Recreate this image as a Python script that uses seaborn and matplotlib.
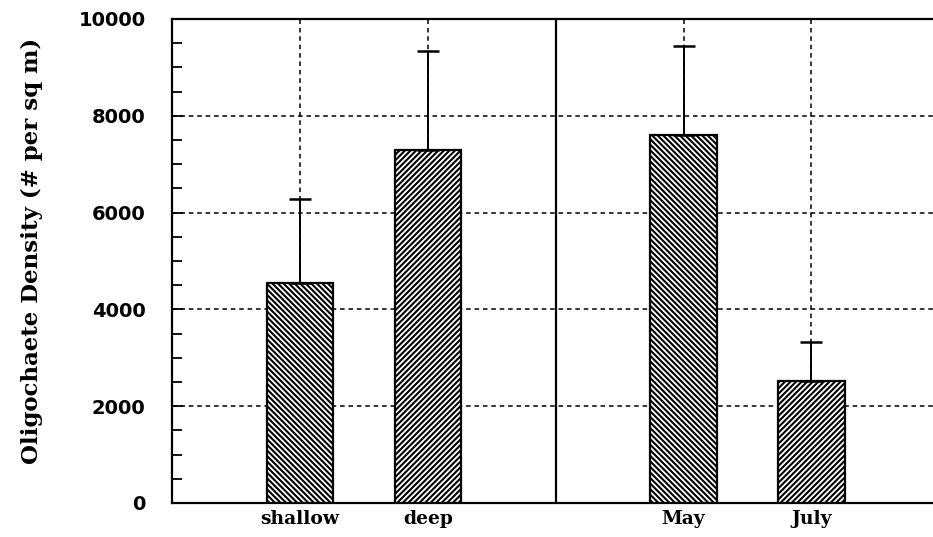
import matplotlib
matplotlib.use("Agg")
import matplotlib.pyplot as plt
import seaborn as sns
import pandas as pd
import numpy as np
from matplotlib.ticker import MultipleLocator

categories = ["shallow", "deep", "May", "July"]
means = [4550, 7300, 7600, 2520]
upper_err = [1730, 2030, 1840, 810]
hatches = ["\\" * 6, "/" * 6, "\\" * 6, "/" * 6]
order = ["shallow", "deep", " ", "May", "July"]

sns.set_theme(style="white")
plt.rcParams["hatch.linewidth"] = 1.5
plt.rcParams["hatch.color"] = "black"

df = pd.DataFrame({"cat": categories, "val": means})

fig = plt.figure(figsize=(9.33, 5.37), dpi=100)
ax = fig.add_axes([172/933, 1-503/537, (933-172)/933, (503-19)/537])

sns.barplot(data=df, x="cat", y="val", order=order, ax=ax, width=0.52,
            color="white", edgecolor="black", linewidth=1.6, errorbar=None, zorder=3)

for patch, h in zip(ax.patches, hatches):
    patch.set_hatch(h)
    patch.set_zorder(3)

xpos = [order.index(c) for c in categories]
ax.errorbar(xpos, means, yerr=[np.zeros(len(means)), upper_err], fmt="none",
            ecolor="black", elinewidth=1.4, capsize=8, capthick=1.8, zorder=4)

ax.set_ylim(0, 10000)
ax.set_xlim(-1, 4.95)
ax.yaxis.set_major_locator(MultipleLocator(2000))
ax.yaxis.set_minor_locator(MultipleLocator(500))
ax.set_xticks(xpos)
ax.set_xticklabels(categories)

# grid lines
for y in [2000, 4000, 6000, 8000]:
    ax.axhline(y, color="black", lw=1.1, ls=(0, (3, 2.5)), zorder=1)
for x in xpos:
    ax.axvline(x, color="black", lw=1.1, ls=(0, (3, 2.5)), zorder=1)
ax.axvline(2, color="black", lw=1.6, zorder=2)

for s in ["left", "bottom", "top"]:
    ax.spines[s].set_color("black")
    ax.spines[s].set_linewidth(1.6)
ax.spines["right"].set_visible(False)

ax.tick_params(axis="y", which="both", direction="in", left=True, color="black",
               width=1.3, pad=19)
ax.tick_params(axis="y", which="major", length=8)
ax.tick_params(axis="y", which="minor", length=7)
ax.tick_params(axis="x", length=0, pad=5)

for lab in ax.get_yticklabels():
    lab.set_fontfamily("DejaVu Sans")
    lab.set_fontweight("bold")
    lab.set_fontsize(14)
    lab.set_color("black")
for lab in ax.get_xticklabels():
    lab.set_fontfamily("DejaVu Serif")
    lab.set_fontweight("bold")
    lab.set_fontsize(13.5)
    lab.set_color("black")

ax.set_xlabel("")
ax.set_ylabel("Oligochaete Density (# per sq m)", fontfamily="DejaVu Serif",
              fontweight="bold", fontsize=16.5, color="black")
ax.yaxis.set_label_coords(-0.17, 0.52)

fig.savefig("out.png", dpi=100)
